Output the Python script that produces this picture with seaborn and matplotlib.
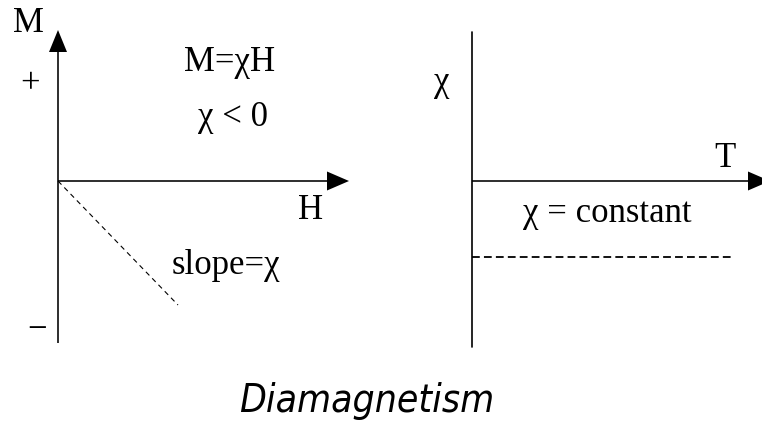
import matplotlib.pyplot as plt
import numpy as np
import pandas as pd
import seaborn as sns

sns.set_style("white")
plt.rcParams["font.family"] = ["Liberation Serif", "DejaVu Serif"]
plt.rcParams["text.color"] = "black"
plt.rcParams["lines.scale_dashes"] = False

# Diagrama M vs H (pendiente = chi < 0)
campo_h = [0.0, 1.2]
magnetizacion = [0.0, -1.24]

# Diagrama chi vs T (chi constante)
temperatura = [0.0, 2.61]
susceptibilidad = [-0.76, -0.76]

titulo = "Diamagnetism"

fig = plt.figure(figsize=(7.62, 4.23), dpi=100)
ax1 = fig.add_axes([0, 1 - 350 / 423, 380 / 762, 350 / 423])
ax2 = fig.add_axes([380 / 762, 1 - 350 / 423, 382 / 762, 350 / 423])

ax1.set_xlim(-0.58, 3.22)
ax1.set_ylim(-1.69, 1.81)
ax2.set_xlim(-0.92, 2.90)
ax2.set_ylim(-1.69, 1.81)

# Ejes con flechas
flecha = dict(width=0.016, length_includes_head=True, color="black", lw=0)
ax1.arrow(0, -1.62, 0, 3.13, head_width=0.18, head_length=0.22, **flecha)
ax1.arrow(0, 0, 2.91, 0, head_width=0.19, head_length=0.22, **flecha)
ax2.plot([0, 0], [-1.66, 1.49], color="black", lw=1.2)
ax2.arrow(0, 0, 2.98, 0, head_width=0.19, head_length=0.22, clip_on=False, **flecha)

# Lineas punteadas
sns.lineplot(x=campo_h, y=magnetizacion, ax=ax1, color="black", lw=0.8,
             linestyle=(0, (3.6, 2.9)))
sns.lineplot(x=temperatura, y=susceptibilidad, ax=ax2, color="black", lw=1.3,
             linestyle=(0, (5.6, 3.0)))

fs = 25
ax1.text(-0.30, 1.58, "M", fontsize=fs, ha="center", va="center")
ax1.text(-0.28, 0.96, "+", fontsize=fs, ha="center", va="center")
ax1.text(-0.21, -1.49, "\u2212", fontsize=fs, ha="center", va="center")
ax1.text(1.72, 1.19, "M=\u03c7H", fontsize=fs, ha="center", va="center")
ax1.text(1.75, 0.64, "\u03c7 < 0", fontsize=fs, ha="center", va="center")
ax1.text(2.53, -0.29, "H", fontsize=fs, ha="center", va="center")
ax1.text(1.68, -0.84, "slope=\u03c7", fontsize=fs, ha="center", va="center")

ax2.text(-0.30, 0.99, "\u03c7", fontsize=fs, ha="center", va="center")
ax2.text(2.53, 0.23, "T", fontsize=fs, ha="center", va="center")
ax2.text(1.35, -0.32, "\u03c7 = constant", fontsize=fs, ha="center", va="center")

for ax in (ax1, ax2):
    ax.axis("off")

fig.text(367 / 762, 1 - 412 / 423, titulo, fontsize=28, style="italic",
         family=["DejaVu Sans"], stretch="condensed", ha="center", va="baseline")

fig.savefig("out.png", dpi=100)
